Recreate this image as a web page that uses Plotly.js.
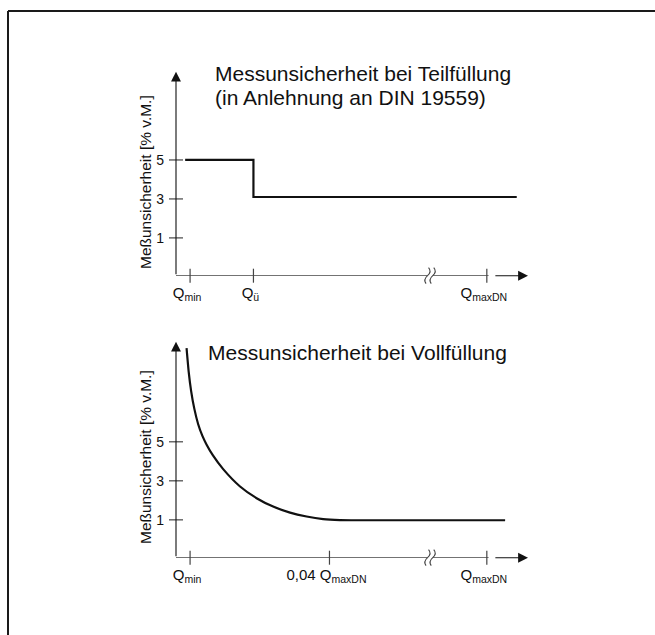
<!DOCTYPE html>
<html>
<head>
<meta charset="utf-8">
<script src="https://cdn.plot.ly/plotly-3.0.1.min.js"></script>
<style>html,body{margin:0;padding:0;background:#fff;}</style>
</head>
<body>
<div id="chart" style="width:655px;height:635px;"></div>
<script>
// ---------- data ----------
const titleTop1 = 'Messunsicherheit bei Teilfüllung';
const titleTop2 = '(in Anlehnung an DIN 19559)';
const titleBottom = 'Messunsicherheit bei Vollfüllung';
const yTitle = 'Meßunsicherheit [% v.M.]';

const yTickVals = [1, 3, 5];
const yTickText = ['1', '3', '5'];

const xTickValsTop = [4, 22, 88.3];
const xTickTextTop = ['Q<sub>min</sub>', 'Q<sub>ü</sub>', 'Q<sub>maxDN</sub>'];
const xTickValsBottom = [4, 43.6, 88.3];
const xTickTextBottom = ['Q<sub>min</sub>', '0,04 Q<sub>maxDN</sub>', 'Q<sub>maxDN</sub>'];
const axisBreakX = 72.2;

// Teilfüllung (step)
const partialX = [2.6, 22, 96.8];
const partialY = [5, 3.1, 3.1];

// Vollfüllung (curve)
const fullX = [3.0, 3.6, 4.3, 5.2, 6.3, 7.5, 8.7, 10.5, 13.4, 18.2, 22.9, 27.6, 32.4, 37.1, 41.8, 46.6, 52, 93.5];
const fullY = [9.8, 8.6, 7.6, 6.7, 5.9, 5.3, 4.85, 4.3, 3.6, 2.71, 2.11, 1.68, 1.37, 1.17, 1.04, 0.99, 0.98, 0.98];

// ---------- layout helpers ----------
const W = 655, H = 635;
const FONT = 'Liberation Sans, Arial, Helvetica, sans-serif';
const AX = '#444';
const xRange = [0, 100];
const yRangeTop = [-0.94, 9.53];
const yRangeBot = [-0.94, 10.13];
const xDomPx = [176, 528];
const yDomTopPx = [71.7, 275.7];
const yDomBotPx = [341.7, 557.7];

function ydom(p) { return [1 - p[1] / H, 1 - p[0] / H]; }
function xToPx(x) { return xDomPx[0] + (x - xRange[0]) / (xRange[1] - xRange[0]) * (xDomPx[1] - xDomPx[0]); }

const traces = [
  {x: partialX, y: partialY, xaxis: 'x', yaxis: 'y', mode: 'lines', line: {shape: 'hv', color: '#111', width: 2.2}, hoverinfo: 'skip'},
  {x: fullX, y: fullY, xaxis: 'x2', yaxis: 'y2', mode: 'lines', line: {shape: 'spline', smoothing: 0.6, color: '#111', width: 2.2}, hoverinfo: 'skip'},
];

// tick marks crossing axes
function tickTraces(xa, ya, xvals, yBase) {
  return [
    {x: xvals, y: xvals.map(() => yBase), xaxis: xa, yaxis: ya, mode: 'markers', cliponaxis: false,
     marker: {symbol: 'line-ns-open', size: 10, color: AX, line: {width: 1.2, color: AX}}, hoverinfo: 'skip'},
    {x: yTickVals.map(() => 0), y: yTickVals, xaxis: xa, yaxis: ya, mode: 'markers', cliponaxis: false,
     marker: {symbol: 'line-ew-open', size: 10, color: AX, line: {width: 1.2, color: AX}}, hoverinfo: 'skip'}
  ];
}
traces.push(...tickTraces('x', 'y', xTickValsTop, yRangeTop[0]));
traces.push(...tickTraces('x2', 'y2', xTickValsBottom, yRangeBot[0]));

function xaxisCfg(vals, text, anchor) {
  return {domain: [xDomPx[0] / W, xDomPx[1] / W], range: xRange, anchor: anchor, showgrid: false, zeroline: false, showline: false,
          ticks: '', tickvals: vals, ticktext: text, tickfont: {family: FONT, size: 15, color: '#111'}, ticklabelstandoff: 6,
          ticklabelshift: -3, fixedrange: true};
}
function yaxisCfg(range, d, anchor) {
  return {domain: d, range: range, anchor: anchor, showgrid: false, zeroline: false, showline: false,
          ticks: '', tickvals: yTickVals, ticktext: yTickText, tickfont: {family: FONT, size: 14, color: '#111'}, ticklabelstandoff: 11,
          fixedrange: true};
}

const shapes = [
  // outer frame (top and left)
  {type: 'line', xref: 'paper', yref: 'paper', x0: 8 / W, x1: 1, y0: 1 - 11 / H, y1: 1 - 11 / H, line: {color: '#1a1a1a', width: 2}},
  {type: 'line', xref: 'paper', yref: 'paper', x0: 8 / W, x1: 8 / W, y0: 1 - 11 / H, y1: 0, line: {color: '#1a1a1a', width: 2}},
];
const annotations = [];

function P(px, py) { return (px / W).toFixed(5) + ',' + (1 - py / H).toFixed(5); }

function axisDecor(xa, ya, yr, xticks, domPx) {
  const yb = yr[0];
  const maxTick = xticks[xticks.length - 1];
  // x axis segments
  shapes.push({type: 'line', xref: xa, yref: ya, x0: xRange[0], x1: axisBreakX - 0.8, y0: yb, y1: yb, line: {color: AX, width: 1.2}});
  shapes.push({type: 'line', xref: xa, yref: ya, x0: axisBreakX + 0.8, x1: maxTick + 0.5, y0: yb, y1: yb, line: {color: AX, width: 1.2}});
  // break symbol (two S-waves)
  const cxb = xToPx(axisBreakX), cy = domPx[1];
  [-2.6, 2.6].forEach(off => {
    const cx = cxb + off;
    shapes.push({type: 'path', xref: 'paper', yref: 'paper',
      path: `M${P(cx + 1, cy - 8)} Q${P(cx + 4.5, cy - 4)} ${P(cx, cy)} Q${P(cx - 4.5, cy + 4)} ${P(cx - 1.5, cy + 8)}`,
      line: {color: AX, width: 1.1}});
  });
  // x arrow
  annotations.push({xref: xa, yref: ya, axref: xa, ayref: ya, x: xRange[1], y: yb, ax: maxTick + 2, ay: yb, text: '',
    showarrow: true, arrowhead: 2, arrowsize: 1.8, arrowwidth: 1.1, arrowcolor: '#111', standoff: 0, startstandoff: 0});
  // y arrow
  annotations.push({xref: xa, yref: ya, axref: xa, ayref: ya, x: xRange[0], y: yr[1], ax: xRange[0], ay: yb, text: '',
    showarrow: true, arrowhead: 2, arrowsize: 1.8, arrowwidth: 1.1, arrowcolor: '#111', standoff: 0, startstandoff: 0});
}
axisDecor('x', 'y', yRangeTop, xTickValsTop, yDomTopPx);
axisDecor('x2', 'y2', yRangeBot, xTickValsBottom, yDomBotPx);

function textAnn(text, xpx, ypx, size, opts) {
  return Object.assign({xref: 'paper', yref: 'paper', x: xpx / W, y: 1 - ypx / H, text: text, showarrow: false,
    xanchor: 'left', yanchor: 'middle', font: {family: FONT, size: size, color: '#111'}}, opts || {});
}
annotations.push(textAnn(titleTop1, 213, 74, 21));
annotations.push(textAnn(titleTop2, 213, 98, 21));
annotations.push(textAnn(titleBottom, 206, 352, 21));
annotations.push(textAnn(yTitle, 145, 182, 15.5, {textangle: -90, xanchor: 'center'}));
annotations.push(textAnn(yTitle, 145, 457, 15.5, {textangle: -90, xanchor: 'center'}));

const layout = {
  width: W, height: H, margin: {l: 0, r: 0, t: 0, b: 0}, showlegend: false,
  paper_bgcolor: '#fff', plot_bgcolor: 'rgba(0,0,0,0)', font: {family: FONT, color: '#111'},
  xaxis: xaxisCfg(xTickValsTop, xTickTextTop, 'y'),
  yaxis: yaxisCfg(yRangeTop, ydom(yDomTopPx), 'x'),
  xaxis2: xaxisCfg(xTickValsBottom, xTickTextBottom, 'y2'),
  yaxis2: yaxisCfg(yRangeBot, ydom(yDomBotPx), 'x2'),
  shapes: shapes, annotations: annotations
};

Plotly.newPlot('chart', traces, layout, {displayModeBar: false, staticPlot: true});
</script>
</body>
</html>
